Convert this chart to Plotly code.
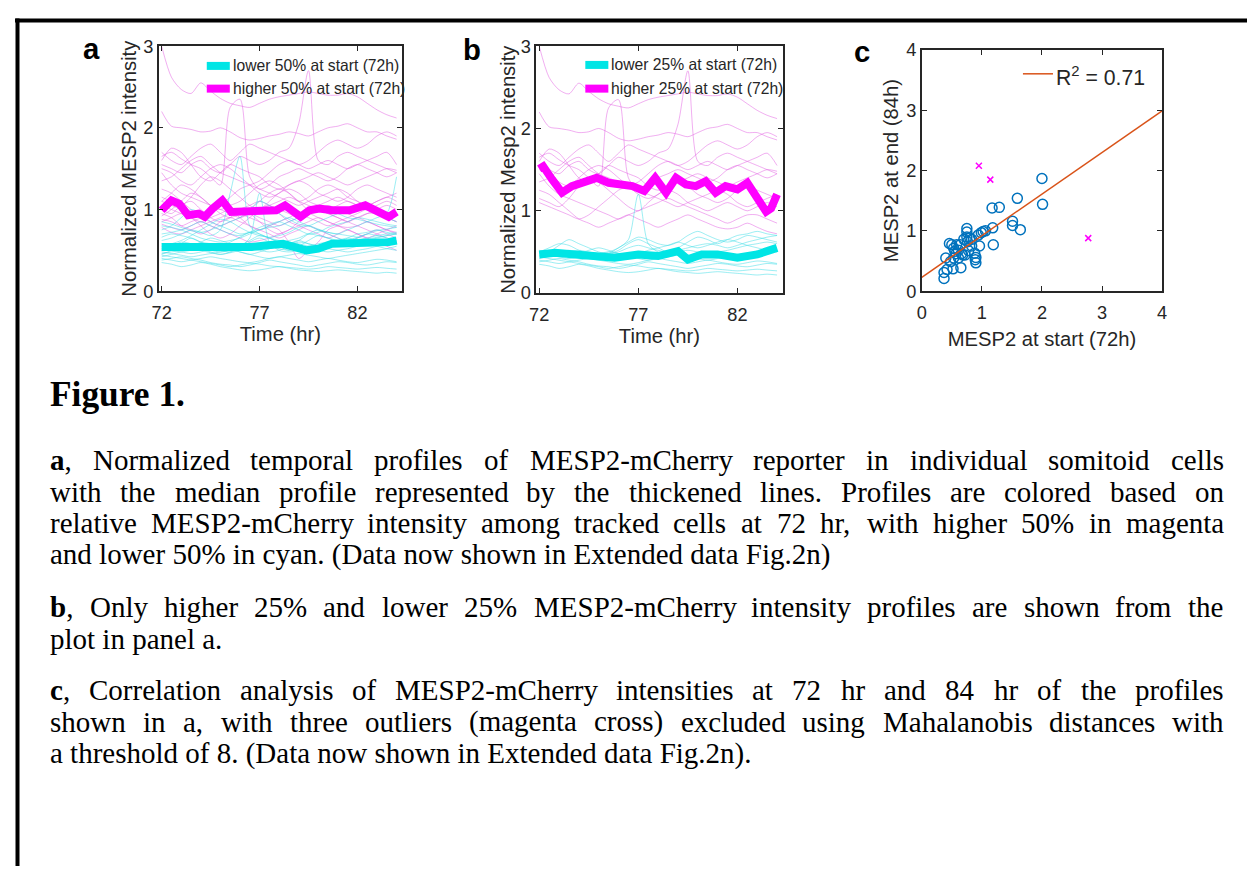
import plotly.graph_objects as go

# ---------------- data ----------------
time_h = [72.0, 72.5, 73.0, 73.5, 74.0, 74.5, 75.0, 75.5, 76.0, 76.5, 77.0, 77.5, 78.0,
          78.5, 79.0, 79.5, 80.0, 80.5, 81.0, 81.5, 82.0, 82.5, 83.0, 83.5, 84.0]

# higher 25% at start (shown in a and b, magenta)
high_top25 = [
    [3.00, 2.62, 2.47, 2.42, 2.55, 2.45, 2.36, 2.30, 2.27, 2.25, 2.30, 2.35, 2.38, 2.40, 2.42, 2.44, 2.42, 2.40, 2.40, 2.42, 2.38, 2.30, 2.22, 2.16, 2.12],
    [2.20, 2.02, 2.00, 1.98, 1.95, 1.96, 2.00, 1.95, 1.88, 1.85, 1.87, 1.90, 1.92, 1.95, 1.93, 1.90, 1.95, 2.00, 2.02, 2.05, 2.00, 1.95, 1.95, 1.90, 1.86],
    [1.55, 1.50, 1.45, 1.55, 1.60, 1.50, 1.45, 1.55, 1.65, 1.60, 1.55, 1.60, 1.70, 1.75, 2.05, 2.70, 1.60, 1.55, 1.65, 1.70, 1.65, 1.60, 1.55, 1.50, 1.45],
    [1.65, 1.70, 1.62, 1.55, 1.50, 1.40, 1.30, 2.25, 2.35, 1.40, 1.25, 1.30, 1.40, 1.45, 1.50, 1.45, 1.40, 1.35, 1.40, 1.50, 1.55, 1.50, 1.45, 1.40, 1.45],
    [1.60, 1.75, 1.70, 1.55, 1.40, 1.35, 1.45, 1.55, 1.50, 1.45, 1.40, 1.30, 1.25, 1.30, 1.35, 1.40, 1.45, 1.40, 1.35, 1.30, 1.35, 1.40, 1.45, 1.50, 1.48],
    [1.50, 1.45, 1.35, 1.30, 1.40, 1.50, 1.55, 1.50, 1.40, 1.30, 1.20, 1.15, 1.20, 1.30, 1.35, 1.30, 1.20, 1.15, 1.10, 1.15, 1.25, 1.30, 1.25, 1.20, 1.15],
    [1.45, 1.30, 1.20, 1.15, 1.10, 1.05, 1.00, 0.95, 0.90, 0.95, 1.00, 1.05, 1.10, 1.15, 1.10, 1.05, 1.00, 0.95, 0.90, 0.85, 0.90, 0.95, 0.95, 0.90, 0.85],
    [1.35, 1.40, 1.50, 1.60, 1.65, 1.55, 1.45, 1.40, 1.35, 1.30, 1.25, 1.20, 1.15, 1.10, 1.05, 1.10, 1.15, 1.20, 1.25, 1.20, 1.10, 1.05, 1.10, 1.15, 1.20],
    [1.25, 1.20, 1.10, 1.00, 0.90, 0.85, 0.80, 0.85, 0.90, 0.95, 0.90, 0.85, 0.80, 0.85, 0.90, 0.95, 0.90, 0.85, 0.80, 0.78, 0.80, 0.85, 0.80, 0.75, 0.72],
    [1.15, 1.10, 1.05, 1.15, 1.30, 1.40, 1.35, 1.25, 1.15, 1.05, 1.00, 1.10, 1.20, 1.25, 1.20, 1.10, 1.05, 1.00, 1.05, 1.10, 1.05, 1.00, 1.05, 1.10, 1.05],
    [1.10, 1.05, 1.00, 0.95, 0.90, 0.95, 1.05, 1.15, 1.25, 1.30, 1.35, 1.45, 1.55, 1.60, 1.55, 1.50, 1.55, 1.60, 1.55, 1.50, 1.55, 1.60, 1.65, 1.70, 1.55],
    [1.70, 1.60, 1.55, 1.65, 1.75, 1.80, 1.70, 1.60, 1.70, 1.80, 1.75, 1.70, 1.65, 1.60, 1.55, 1.60, 1.70, 1.80, 1.85, 1.80, 1.75, 1.80, 1.90, 1.95, 1.90],
]
# rest of higher 50% (panel a only, magenta)
high_rest = [
    [1.05, 1.00, 0.95, 0.90, 0.85, 0.90, 0.95, 1.00, 0.95, 0.90, 0.85, 0.80, 0.75, 0.60, 0.40, 0.50, 0.60, 0.75, 0.80, 0.85, 0.90, 0.85, 0.80, 0.75, 0.70],
    [1.00, 0.95, 1.05, 1.10, 1.00, 0.90, 0.85, 0.90, 1.00, 1.05, 1.10, 1.05, 1.00, 0.95, 0.90, 0.95, 1.00, 1.05, 1.00, 0.95, 0.90, 0.95, 1.00, 1.05, 1.00],
    [0.95, 0.90, 0.80, 0.75, 0.70, 0.75, 0.85, 0.90, 0.85, 0.80, 0.75, 0.70, 0.65, 0.70, 0.75, 0.80, 0.75, 0.70, 0.65, 0.60, 0.65, 0.70, 0.75, 0.70, 0.65],
    [0.92, 1.00, 1.10, 1.20, 1.15, 1.05, 0.95, 0.90, 0.95, 1.00, 1.10, 1.20, 1.25, 1.20, 1.10, 1.00, 1.05, 1.10, 1.15, 1.10, 1.05, 1.00, 0.95, 0.90, 0.95],
    [0.88, 0.85, 0.80, 0.85, 0.90, 1.00, 1.05, 1.00, 0.90, 0.80, 0.75, 0.80, 0.85, 0.90, 0.95, 0.90, 0.85, 0.80, 0.85, 0.90, 0.95, 1.00, 0.95, 0.90, 0.85],
    [0.85, 0.90, 0.95, 0.90, 0.80, 0.70, 0.65, 0.70, 0.80, 0.90, 1.00, 1.05, 0.95, 0.85, 0.80, 0.75, 0.70, 0.65, 0.70, 0.75, 0.70, 0.65, 0.60, 0.55, 0.50],
    [0.82, 0.78, 0.75, 0.80, 0.85, 0.80, 0.75, 0.70, 0.65, 0.60, 0.62, 0.65, 0.70, 0.75, 0.80, 0.85, 0.90, 0.85, 0.80, 0.75, 0.70, 0.65, 0.70, 0.75, 0.80],
    [1.10, 1.20, 1.30, 1.25, 1.15, 1.05, 1.00, 1.05, 1.10, 1.20, 1.30, 1.35, 1.30, 1.20, 1.10, 1.15, 1.25, 1.30, 1.25, 1.15, 1.10, 1.05, 1.10, 1.15, 1.10],
    [0.78, 0.72, 0.70, 0.75, 0.80, 0.85, 0.90, 0.95, 1.00, 0.95, 0.85, 0.75, 0.70, 0.75, 0.85, 0.95, 1.00, 0.95, 0.90, 0.85, 0.80, 0.75, 0.70, 0.65, 0.60],
]
# lower 25% at start (shown in a and b, cyan)
low_bottom25 = [
    [0.35, 0.33, 0.30, 0.32, 0.35, 0.33, 0.30, 0.28, 0.26, 0.25, 0.26, 0.28, 0.30, 0.28, 0.26, 0.25, 0.24, 0.25, 0.26, 0.25, 0.24, 0.23, 0.22, 0.23, 0.22],
    [0.38, 0.40, 0.42, 0.40, 0.38, 0.35, 0.33, 0.32, 0.30, 0.32, 0.35, 0.38, 0.36, 0.34, 0.32, 0.30, 0.32, 0.34, 0.36, 0.35, 0.33, 0.32, 0.34, 0.36, 0.35],
    [0.42, 0.45, 0.48, 0.50, 0.52, 0.50, 0.48, 0.50, 0.55, 0.65, 1.20, 0.60, 0.50, 0.48, 0.50, 0.52, 0.50, 0.48, 0.50, 0.52, 0.55, 0.58, 0.60, 0.62, 0.60],
    [0.45, 0.50, 0.58, 0.65, 0.60, 0.55, 0.50, 0.48, 0.52, 0.60, 0.65, 0.60, 0.55, 0.50, 0.55, 0.62, 0.68, 0.65, 0.60, 0.65, 0.70, 0.72, 0.75, 0.72, 0.70],
    [0.48, 0.46, 0.44, 0.42, 0.44, 0.46, 0.48, 0.50, 0.48, 0.45, 0.42, 0.40, 0.42, 0.44, 0.46, 0.44, 0.42, 0.40, 0.42, 0.44, 0.46, 0.48, 0.50, 0.52, 0.55],
    [0.50, 0.55, 0.60, 0.58, 0.52, 0.48, 0.45, 0.48, 0.55, 0.62, 0.68, 0.65, 0.60, 0.58, 0.62, 0.70, 0.75, 0.70, 0.65, 0.62, 0.65, 0.70, 0.68, 0.65, 0.62],
    [0.40, 0.38, 0.36, 0.38, 0.40, 0.42, 0.40, 0.38, 0.36, 0.35, 0.37, 0.40, 0.42, 0.40, 0.38, 0.36, 0.38, 0.40, 0.38, 0.36, 0.35, 0.37, 0.39, 0.38, 0.36],
    [0.52, 0.50, 0.48, 0.46, 0.48, 0.52, 0.55, 0.52, 0.48, 0.45, 0.48, 0.52, 0.55, 0.58, 0.62, 0.58, 0.55, 0.58, 0.62, 0.65, 0.62, 0.58, 0.55, 0.52, 0.50],
    [0.44, 0.42, 0.40, 0.38, 0.36, 0.34, 0.32, 0.30, 0.32, 0.34, 0.33, 0.31, 0.30, 0.29, 0.28, 0.27, 0.28, 0.30, 0.29, 0.28, 0.27, 0.28, 0.29, 0.28, 0.27],
    [0.46, 0.48, 0.50, 0.52, 0.50, 0.47, 0.45, 0.47, 0.50, 0.55, 0.58, 0.55, 0.52, 0.50, 0.52, 0.55, 0.58, 0.60, 0.58, 0.55, 0.58, 0.62, 0.65, 0.68, 0.70],
]
# rest of lower 50% (panel a only, cyan)
low_rest = [
    [0.62, 0.65, 0.70, 0.75, 0.72, 0.68, 0.75, 1.20, 1.65, 0.80, 0.70, 0.65, 0.60, 0.62, 0.65, 0.70, 0.68, 0.65, 0.62, 0.60, 0.62, 0.65, 0.68, 0.70, 0.72],
    [0.70, 0.72, 0.75, 0.80, 0.85, 0.80, 0.75, 0.70, 0.68, 0.72, 0.78, 0.82, 0.85, 0.80, 0.75, 0.70, 0.72, 0.78, 0.82, 0.85, 0.90, 0.88, 0.85, 0.82, 0.80],
    [0.75, 0.80, 0.90, 1.00, 0.95, 0.85, 0.80, 0.75, 0.70, 0.72, 0.75, 0.80, 0.85, 0.90, 0.85, 0.80, 0.75, 0.72, 0.70, 0.75, 0.80, 0.85, 0.90, 0.95, 1.40],
    [0.58, 0.55, 0.52, 0.55, 0.60, 0.65, 0.62, 0.58, 0.55, 0.52, 0.50, 0.48, 0.50, 0.55, 0.60, 0.58, 0.55, 0.52, 0.50, 0.48, 0.50, 0.52, 0.55, 0.58, 0.60],
    [0.80, 0.78, 0.75, 0.70, 0.65, 0.62, 0.60, 0.62, 0.65, 0.70, 0.75, 0.78, 0.80, 0.85, 0.90, 0.95, 1.00, 0.98, 0.95, 0.90, 0.88, 0.85, 0.82, 0.80, 0.78],
    [0.66, 0.70, 0.68, 0.65, 0.60, 0.58, 0.55, 0.60, 0.66, 0.72, 0.70, 0.65, 0.62, 0.60, 0.58, 0.55, 0.52, 0.55, 0.58, 0.62, 0.66, 0.70, 0.74, 0.76, 0.78],
    [0.55, 0.58, 0.62, 0.68, 0.75, 0.82, 0.88, 0.85, 0.78, 0.72, 0.68, 0.66, 0.68, 0.72, 0.78, 0.80, 0.76, 0.72, 0.70, 0.68, 0.66, 0.64, 0.66, 0.68, 0.70],
    [0.85, 0.82, 0.78, 0.74, 0.72, 0.75, 0.80, 0.85, 0.90, 1.00, 1.10, 1.05, 0.95, 0.88, 0.82, 0.80, 0.85, 0.90, 0.95, 1.00, 1.05, 1.00, 0.95, 0.90, 0.85],
]

# median profiles (thick lines)
med_a_high_t = [72.0, 72.5, 72.9, 73.35, 73.9, 74.2, 74.6, 75.1, 75.55, 76.0, 77.0, 77.85, 78.3,
                78.7, 79.1, 79.55, 80.05, 80.7, 81.6, 82.4, 82.9, 83.6, 84.0]
med_a_high_v = [0.99, 1.11, 1.07, 0.93, 0.95, 0.91, 1.01, 1.11, 0.97, 0.97, 0.99, 0.99, 1.05,
                0.97, 0.91, 0.99, 1.01, 0.99, 0.99, 1.05, 0.99, 0.91, 0.97]
med_a_low_t = [72.0, 72.9, 74.6, 75.6, 76.6, 77.3, 78.2, 79.4, 80.0, 80.7, 81.7, 82.7, 83.6, 84.0]
med_a_low_v = [0.54, 0.54, 0.52, 0.52, 0.54, 0.56, 0.58, 0.50, 0.52, 0.58, 0.58, 0.58, 0.60, 0.62]
med_b_high_t = [72.0, 72.2, 72.65, 73.15, 73.65, 74.35, 74.9, 75.5, 76.0, 76.7, 77.3, 77.85, 78.4,
                78.9, 79.4, 79.9, 80.4, 80.9, 81.4, 82.0, 82.5, 82.9, 83.45, 83.7, 84.0]
med_b_high_v = [1.51, 1.54, 1.38, 1.22, 1.30, 1.36, 1.40, 1.34, 1.32, 1.30, 1.24, 1.40, 1.22,
                1.40, 1.32, 1.30, 1.36, 1.22, 1.30, 1.26, 1.34, 1.18, 0.99, 1.03, 1.20]
med_b_low_t = [72.0, 72.8, 73.8, 75.0, 75.8, 77.0, 78.0, 79.0, 79.5, 80.2, 81.0, 82.0, 83.0, 84.0]
med_b_low_v = [0.47, 0.49, 0.47, 0.45, 0.43, 0.47, 0.45, 0.51, 0.41, 0.47, 0.47, 0.43, 0.47, 0.55]

# panel c scatter
start_72h = [2.00, 2.01, 1.59, 1.29, 1.17, 1.51, 1.51, 1.64, 1.18, 1.19, 1.02, 1.06, 0.94, 0.96,
             0.83, 0.75, 0.75, 0.75, 0.76, 0.83, 0.90, 0.90, 0.89, 0.78, 0.68, 0.61, 0.65, 0.53,
             0.52, 0.40, 0.37, 0.37, 0.42, 0.50, 0.53, 0.58, 0.64, 0.55, 0.61, 0.72, 0.66, 0.48,
             0.80, 0.88, 0.70, 0.46, 0.57, 0.99]
end_84h = [1.87, 1.44, 1.54, 1.39, 1.38, 1.16, 1.09, 1.02, 1.05, 0.77, 0.99, 1.00, 0.93, 0.75,
           0.86, 1.04, 0.98, 0.90, 0.82, 0.75, 0.56, 0.47, 0.52, 0.67, 0.60, 0.55, 0.39, 0.55,
           0.37, 0.55, 0.31, 0.21, 0.36, 0.77, 0.71, 0.77, 0.77, 0.66, 0.68, 0.60, 0.62, 0.49,
           0.88, 0.63, 0.86, 0.79, 0.62, 0.97]
outlier_start = [0.95, 1.14, 2.77]
outlier_end = [2.08, 1.85, 0.88]
fit_intercept = 0.23
fit_slope = 0.69
fit_x = [0, 4]
r2_label = "R<sup>2</sup> = 0.71"

x_ticks_time = [72, 77, 82]
y_ticks_ab = [0, 1, 2, 3]
ticks_c = [0, 1, 2, 3, 4]

# ---------------- styling / placement ----------------
# page placement of the figure in the captured picture: picture = O + S * figure px
S, O = 0.989, 16.5
W, H = 1252, 868
MAG_THIN = "rgba(228,95,228,0.5)"
CYA_THIN = "rgba(60,222,232,0.5)"
MAG = "#FF00FF"
CYA = "#00E5E5"
AXC = "#262626"
SANS = "Liberation Sans"
SERIF = "Liberation Serif"


def px(x):
    return ((x - O) / S) / W


def py(y):
    return 1 - ((y - O) / S) / H


def fs(v):
    return round(v / S, 2)


fig = go.Figure()


def add_panel(xa, ya, highs, lows, mh_t, mh_v, ml_t, ml_v):
    for tr in highs:
        fig.add_trace(go.Scatter(x=time_h, y=tr, mode="lines", xaxis=xa, yaxis=ya,
                                 line=dict(color=MAG_THIN, width=1, shape="spline", smoothing=0.8),
                                 showlegend=False, hoverinfo="skip"))
    for tr in lows:
        fig.add_trace(go.Scatter(x=time_h, y=tr, mode="lines", xaxis=xa, yaxis=ya,
                                 line=dict(color=CYA_THIN, width=1, shape="spline", smoothing=0.8),
                                 showlegend=False, hoverinfo="skip"))
    fig.add_trace(go.Scatter(x=mh_t, y=mh_v, mode="lines", xaxis=xa, yaxis=ya,
                             line=dict(color=MAG, width=8), showlegend=False))
    fig.add_trace(go.Scatter(x=ml_t, y=ml_v, mode="lines", xaxis=xa, yaxis=ya,
                             line=dict(color=CYA, width=8), showlegend=False))


add_panel("x", "y", high_top25 + high_rest, low_bottom25 + low_rest,
          med_a_high_t, med_a_high_v, med_a_low_t, med_a_low_v)
add_panel("x2", "y2", high_top25, low_bottom25,
          med_b_high_t, med_b_high_v, med_b_low_t, med_b_low_v)

# panel c
fig.add_trace(go.Scatter(x=start_72h, y=end_84h, mode="markers", xaxis="x3", yaxis="y3",
                         marker=dict(symbol="circle-open", size=10, color="#0072BD",
                                     line=dict(width=1.5, color="#0072BD")), showlegend=False))
fig.add_trace(go.Scatter(x=outlier_start, y=outlier_end, mode="markers", xaxis="x3", yaxis="y3",
                         marker=dict(symbol="x-thin-open", size=6, color=MAG,
                                     line=dict(width=1.5, color=MAG)), showlegend=False))
fig.add_trace(go.Scatter(x=fit_x, y=[fit_intercept + fit_slope * v for v in fit_x], mode="lines",
                         xaxis="x3", yaxis="y3", line=dict(color="#D95319", width=1.5),
                         showlegend=False))

tickfont = dict(family=SANS, size=fs(18), color=AXC)
titlefont = dict(family=SANS, size=fs(20), color=AXC)


def ax_common(is_x):
    d = dict(showline=True, linecolor=AXC, linewidth=1.5, mirror="ticks", ticks="inside",
             ticklen=5, tickwidth=1.2, tickcolor=AXC, showgrid=False, zeroline=False,
             tickfont=tickfont)
    if is_x:
        d["ticklabelstandoff"] = 4
    return d


fig.update_layout(
    width=W, height=H, autosize=False,
    margin=dict(l=0, r=0, t=0, b=0),
    paper_bgcolor="white", plot_bgcolor="white",
    xaxis=dict(domain=[px(160), px(403)], anchor="y", range=[71.85, 84.28], tickvals=x_ticks_time,
               title=dict(text="Time (hr)", font=titlefont, standoff=4), **ax_common(True)),
    yaxis=dict(domain=[py(293), py(45)], anchor="x", range=[0, 3], tickvals=y_ticks_ab,
               title=dict(text="Normalized MESP2 intensity", font=titlefont, standoff=1), **ax_common(False)),
    xaxis2=dict(domain=[px(537), px(783)], anchor="y2", range=[71.85, 84.28], tickvals=x_ticks_time,
                title=dict(text="Time (hr)", font=titlefont, standoff=4), **ax_common(True)),
    yaxis2=dict(domain=[py(295), py(45)], anchor="x2", range=[0, 3], tickvals=y_ticks_ab,
                title=dict(text="Normalized Mesp2 intensity", font=titlefont, standoff=0), **ax_common(False)),
    xaxis3=dict(domain=[px(922), px(1162)], anchor="y3", range=[0, 4], tickvals=ticks_c,
                title=dict(text="MESP2 at start (72h)", font=titlefont, standoff=10), **ax_common(True)),
    yaxis3=dict(domain=[py(293), py(49)], anchor="x3", range=[0, 4], tickvals=ticks_c,
                title=dict(text="MESP2 at end (84h)", font=titlefont, standoff=2), **ax_common(False)),
)

shapes = []
annotations = []

# page border (top and left)
shapes.append(dict(type="line", xref="paper", yref="paper", x0=0, x1=1, y0=py(19), y1=py(19),
                   line=dict(color="black", width=4)))
shapes.append(dict(type="line", xref="paper", yref="paper", x0=px(19), x1=px(19), y0=py(17), y1=0,
                   line=dict(color="black", width=4)))

# panel letters
for letter, x, y in [("a", 93, 47), ("b", 473, 48), ("c", 862, 50)]:
    annotations.append(dict(text="<b>%s</b>" % letter, x=px(x), y=py(y), xref="paper", yref="paper",
                            xanchor="center", yanchor="middle", showarrow=False,
                            font=dict(family=SANS, size=fs(29), color="black")))


# legends for a and b
def legend(x0, x1, y_c, y_m, lbl_c, lbl_m):
    shapes.append(dict(type="line", xref="paper", yref="paper", x0=px(x0), x1=px(x1), y0=py(y_c), y1=py(y_c),
                       line=dict(color=CYA, width=8)))
    shapes.append(dict(type="line", xref="paper", yref="paper", x0=px(x0), x1=px(x1), y0=py(y_m), y1=py(y_m),
                       line=dict(color=MAG, width=8)))
    for lbl, y in [(lbl_c, y_c), (lbl_m, y_m)]:
        annotations.append(dict(text=lbl, x=px(x1 + 1), y=py(y), xref="paper", yref="paper",
                                xanchor="left", yanchor="middle", showarrow=False,
                                font=dict(family=SANS, size=fs(15.5), color=AXC)))


legend(208, 231, 65, 88, "lower 50% at start (72h)", "higher 50% at start (72h)")
legend(586, 609, 64, 88, "lower 25% at start (72h)", "higher 25% at start (72h)")

# legend for c
shapes.append(dict(type="line", xref="paper", yref="paper", x0=px(1023), x1=px(1053), y0=py(73), y1=py(73),
                   line=dict(color="#D95319", width=1.5)))
annotations.append(dict(text=r2_label, x=px(1054), y=py(75), xref="paper", yref="paper",
                        xanchor="left", yanchor="middle", showarrow=False,
                        font=dict(family=SANS, size=fs(21), color=AXC)))

# ---------------- caption ----------------
TNR = {" ": 250, "(": 333, ")": 333, "%": 833, ",": 250, "-": 333, ".": 250,
       "A": 722, "B": 667, "C": 667, "D": 722, "E": 611, "F": 556, "G": 722, "H": 722, "I": 333,
       "J": 389, "K": 722, "L": 611, "M": 889, "N": 722, "O": 722, "P": 556, "Q": 722, "R": 667,
       "S": 556, "T": 611, "U": 722, "V": 722, "W": 944, "X": 722, "Y": 722, "Z": 611,
       "a": 444, "b": 500, "c": 444, "d": 500, "e": 444, "f": 333, "g": 500, "h": 500, "i": 278,
       "j": 278, "k": 500, "l": 278, "m": 778, "n": 500, "o": 500, "p": 500, "q": 500, "r": 333,
       "s": 389, "t": 278, "u": 500, "v": 500, "w": 722, "x": 500, "y": 500, "z": 444}
for d in "0123456789":
    TNR[d] = 500
TNR_BOLD = {"a": 500, "b": 556, "c": 444}

BODY = 29.0          # figure px
LEFT, RIGHT = 50, 1222


def word_width(word):
    w, i, bold = 0, 0, False
    while i < len(word):
        if word.startswith("<b>", i):
            bold, i = True, i + 3
            continue
        if word.startswith("</b>", i):
            bold, i = False, i + 4
            continue
        ch = word[i]
        w += TNR_BOLD.get(ch, 500) if bold else TNR.get(ch, 500)
        i += 1
    return w * BODY / 1000.0 * S      # width in picture px


paragraphs = [
    ([464, 496, 528, 560], [
        "<b>a</b>, Normalized temporal profiles of MESP2-mCherry reporter in individual somitoid cells",
        "with the median profile represented by the thickened lines. Profiles are colored based on",
        "relative MESP2-mCherry intensity among tracked cells at 72 hr, with higher 50% in magenta",
        "and lower 50% in cyan. (Data now shown in Extended data Fig.2n)"]),
    ([613, 645], [
        "<b>b</b>, Only higher 25% and lower 25% MESP2-mCherry intensity profiles are shown from the",
        "plot in panel a."]),
    ([697, 729, 761], [
        "<b>c</b>, Correlation analysis of MESP2-mCherry intensities at 72 hr and 84 hr of the profiles",
        "shown in a, with three outliers (magenta cross) excluded using Mahalanobis distances with",
        "a threshold of 8. (Data now shown in Extended data Fig.2n)."]),
]

annotations.append(dict(text="<b>Figure 1.</b>", x=px(LEFT), y=py(397), xref="paper", yref="paper",
                        xanchor="left", yanchor="middle", showarrow=False, borderpad=0,
                        font=dict(family=SERIF, size=fs(35), color="black")))

cap_font = dict(family=SERIF, size=BODY, color="black")
for ys, lines in paragraphs:
    for k, (y, line) in enumerate(zip(ys, lines)):
        last = (k == len(lines) - 1)
        if last:
            annotations.append(dict(text=line, x=px(LEFT), y=py(y), xref="paper", yref="paper",
                                    xanchor="left", yanchor="middle", showarrow=False, font=cap_font,
                                    borderpad=0))
            continue
        words = line.split(" ")
        widths = [word_width(w) for w in words]
        gap = (RIGHT - LEFT - sum(widths)) / (len(words) - 1)
        xpos = LEFT
        for w, ww in zip(words, widths):
            annotations.append(dict(text=w, x=px(xpos), y=py(y), xref="paper", yref="paper",
                                    xanchor="left", yanchor="middle", showarrow=False, font=cap_font,
                                    borderpad=0))
            xpos += ww + gap

fig.update_layout(shapes=shapes, annotations=annotations)
fig.write_html("out.html")
